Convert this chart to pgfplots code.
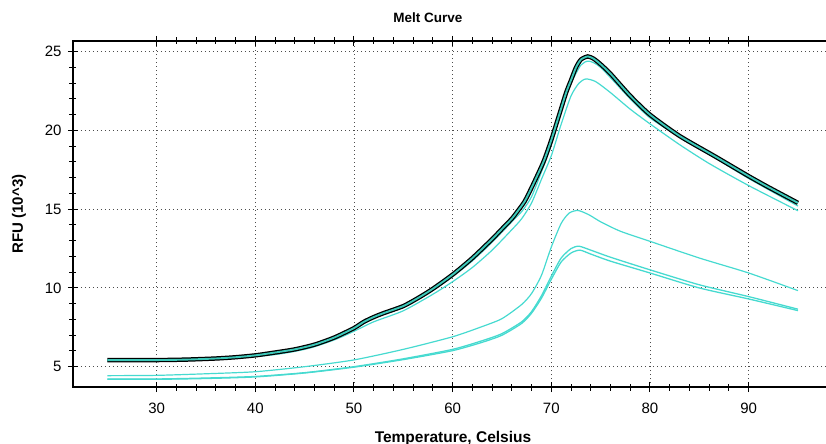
\documentclass[border=0pt]{standalone}
\usepackage{fontspec}
\setmainfont{Liberation Sans}
\usepackage{pgfplots}
\pgfplotsset{compat=1.18}
\definecolor{turq}{RGB}{70,218,208}
\definecolor{turqin}{RGB}{60,200,185}
\begin{document}
\begin{tikzpicture}[x=1bp,y=1bp]
\begin{axis}[
  at={(0,0)}, anchor=south west,
  scale only axis, width=760bp, height=346bp,
  xmin=21.52, xmax=98.55, ymin=3.71, ymax=25.68,
  xtick={30,40,50,60,70,80,90},
  ytick={5,10,15,20,25},
  minor x tick num=4, minor y tick num=4,
  xtick pos=both, ytick pos=left,
  tick align=center,
  major tick length=10bp, minor tick length=7bp,
  every tick/.style={black, line width=1bp},
  axis line style={black, line width=1.1bp},
  grid=major,
  major grid style={black!70, line width=0.9bp, dash pattern=on 0.9bp off 3.1bp},
  /pgf/number format/assume math mode=true,
  tick label style={font=\fontsize{15bp}{18bp}\selectfont},
  xticklabel style={yshift=-8bp},
  yticklabel style={xshift=-3bp},
  title={Melt Curve},
  title style={at={(axis description cs:0.467,1.0376)}, anchor=base, yshift=0bp, font=\fontsize{13.5bp}{16bp}\selectfont\bfseries},
  xlabel={Temperature, Celsius},
  xlabel style={at={(axis description cs:0.5,0)}, anchor=base, yshift=-55bp, font=\fontsize{15.5bp}{18bp}\selectfont\bfseries},
  ylabel={RFU (10\^{}3)},
  ylabel style={at={(axis description cs:-0.0711,0.5)}, anchor=center, font=\fontsize{15bp}{18bp}\selectfont\bfseries},
]
% curve C
\addplot[turq, line width=1.2bp, smooth, tension=0.4] coordinates {
(25,4.43) (30,4.45) (35,4.55) (40,4.68) (45,5.0) (50,5.43) (55,6.1)
(60,6.9) (63,7.55) (65,8.05) (67,8.95) (68,9.65) (69,10.8) (70,12.6) (71,14.1)
(71.8,14.75) (72.7,14.92) (73.8,14.65) (75,14.2) (77,13.6) (80,12.96) (85,11.9)
(90,10.95) (95,9.83)};
% curve D
\addplot[turq, line width=1.3bp, smooth, tension=0.4] coordinates {
(25,4.22) (30,4.22) (35,4.28) (40,4.38) (45,4.62) (50,5.0) (55,5.5)
(60,6.1) (63,6.65) (65,7.1) (67,7.85) (68,8.5) (69,9.5) (70,10.75) (71,11.9)
(72,12.5) (72.8,12.65) (74,12.4) (76,11.95) (80,11.15) (85,10.2)
(90,9.45) (95,8.65)};
% curve E
\addplot[turq, line width=1.3bp, smooth, tension=0.4] coordinates {
(25,4.2) (30,4.2) (35,4.25) (40,4.35) (45,4.6) (50,4.97) (55,5.45)
(60,6.02) (63,6.55) (65,7.0) (67,7.75) (68,8.4) (69,9.35) (70,10.55) (71,11.65)
(72,12.22) (72.9,12.4) (74,12.15) (76,11.7) (80,10.95) (85,10.0)
(90,9.3) (95,8.56)};
% curve B
\addplot[turq, line width=1.2bp, smooth, tension=0.4] coordinates {
(25,5.35) (40,5.65) (45,6.1) (48,6.7) (50,7.25) (52,7.85) (55,8.55) (58,9.6)
(60,10.4) (62,11.3) (64,12.4) (66,13.7) (67,14.4) (68,15.4) (69,16.9) (70,18.4)
(71,20.4) (72,22.2) (72.8,23.0) (73.5,23.27) (74.5,23.1) (76,22.4) (78,21.35)
(80,20.42) (83,19.1) (86,17.9) (90,16.5) (95,14.9)};
% curve A2 (close to highlighted)
\addplot[turq, line width=1.2bp, smooth, tension=0.4] coordinates {
(25,5.38) (40,5.68) (45,6.15) (48,6.8) (50,7.38) (52,8.08) (55,8.78) (58,9.85)
(60,10.72) (62,11.72) (64,12.9) (66,14.2) (67,14.85) (68,15.8) (69.2,17.7) (70,19.1)
(71,21.3) (72,23.0) (73,24.15) (73.8,24.4) (75,24.0) (78,22.0) (80,20.8)
(83.3,19.45) (86.6,18.25) (90,16.95) (95,15.2)};
% highlighted curve A
\pgfplotstableread{
x y
25 5.42
30 5.42
33 5.45
36 5.52
38 5.6
40 5.72
42 5.9
44 6.1
46 6.4
48 6.85
50 7.45
51 7.85
52 8.15
53 8.4
55 8.85
56.6 9.4
58 9.95
60 10.85
62 11.9
64 13.1
65 13.75
66 14.4
66.5 14.8
67.3 15.5
68.1 16.5
69.2 18.0
70 19.4
70.8 21.0
71.5 22.4
72 23.2
72.5 24.0
73 24.5
73.7 24.7
74.3 24.55
75 24.2
76 23.6
78 22.2
80 21.0
83 19.65
86.6 18.35
90 17.1
92 16.4
95 15.4
}\curveA
\addplot[black, line width=4.4bp, smooth, tension=0.4, line cap=butt] table[x=x,y=y] {\curveA};
\addplot[turqin, line width=1.9bp, smooth, tension=0.4, line cap=butt] table[x=x,y=y] {\curveA};
\end{axis}
\pgfresetboundingbox
\path[use as bounding box] (-73bp,-57bp) rectangle (753bp,387bp);
\end{tikzpicture}
\end{document}
